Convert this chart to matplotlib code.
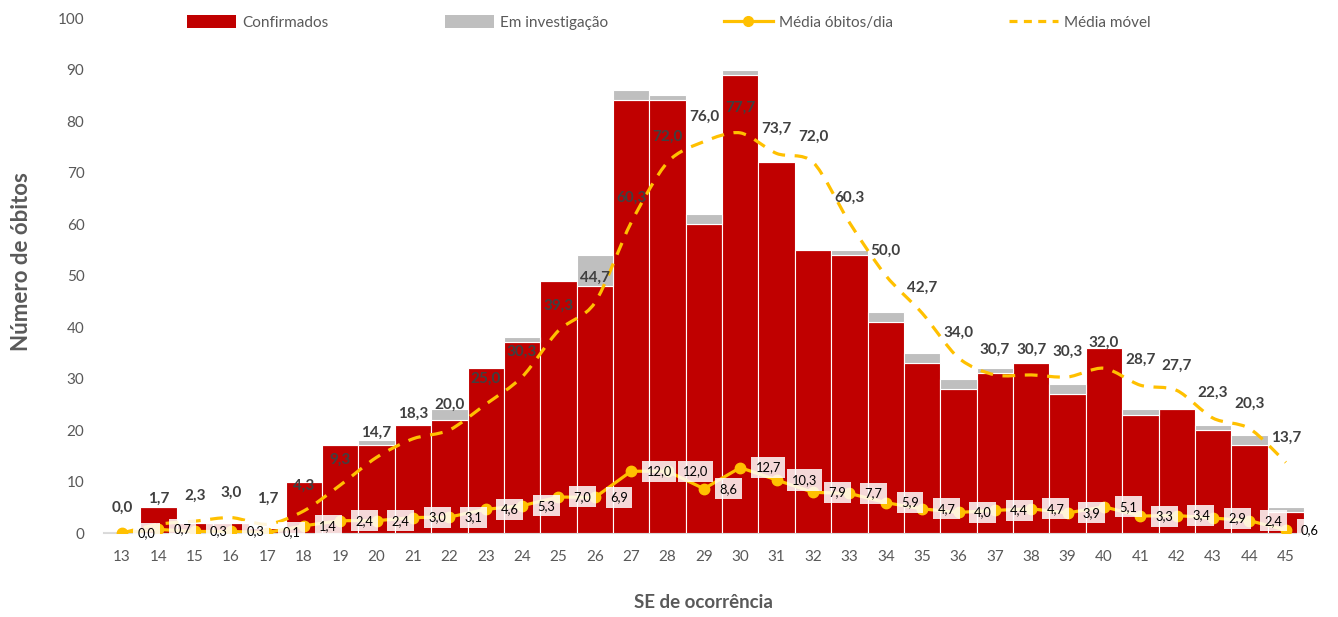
import numpy as np
import matplotlib
matplotlib.use("Agg")
import matplotlib.pyplot as plt
from matplotlib.path import Path
from matplotlib.patches import PathPatch, Patch
from matplotlib.lines import Line2D

plt.rcParams["font.family"] = ["Lato", "DejaVu Sans"]

semanas = list(range(13, 46))
confirmados = [0, 5, 2, 2, 1, 10, 17, 17, 21, 22, 32, 37, 49, 48, 84, 84, 60, 89,
               72, 55, 54, 41, 33, 28, 31, 33, 27, 36, 23, 24, 20, 17, 4]
investigacao = [0, 0, 0, 0, 0, 0, 0, 1, 0, 2, 0, 1, 0, 6, 2, 1, 2, 1,
                0, 0, 1, 2, 2, 2, 1, 0, 2, 0, 1, 0, 1, 2, 1]
media_dia = [0.0, 0.7, 0.3, 0.3, 0.1, 1.4, 2.4, 2.4, 3.0, 3.1, 4.6, 5.3, 7.0, 6.9,
             12.0, 12.0, 8.6, 12.7, 10.3, 7.9, 7.7, 5.9, 4.7, 4.0, 4.4, 4.7, 3.9,
             5.1, 3.3, 3.4, 2.9, 2.4, 0.6]
media_movel = [0.0, 1.7, 2.3, 3.0, 1.7, 4.3, 9.3, 14.7, 18.3, 20.0, 25.0, 30.3,
               39.3, 44.7, 60.3, 72.0, 76.0, 77.7, 73.7, 72.0, 60.3, 50.0, 42.7,
               34.0, 30.7, 30.7, 30.3, 32.0, 28.7, 27.7, 22.3, 20.3, 13.7]

RED = "#C00000"
GRAY = "#BFBFBF"
YEL = "#FFC000"
TXT = "#595959"

def fmt(v):
    return ("%.1f" % v).replace(".", ",")

fig = plt.figure(figsize=(13.38, 6.17), dpi=100)
ax = fig.add_axes([0.0776, 0.1361, 0.8970, 0.8347])

x = np.array(semanas, dtype=float)
conf = np.array(confirmados)
ax.bar(x, conf, width=1.0, color=RED, edgecolor="white", linewidth=0.8, zorder=2)
ax.bar(x, investigacao, width=1.0, bottom=conf, color=GRAY, edgecolor="white",
       linewidth=0.8, zorder=2)

# smoothed moving average (cubic bezier through the points, like Excel)
mm = np.array(media_movel)
n = len(x)
verts = [(x[0], mm[0])]
codes = [Path.MOVETO]
for i in range(n - 1):
    p0 = np.array([x[max(i - 1, 0)], mm[max(i - 1, 0)]])
    p1 = np.array([x[i], mm[i]])
    p2 = np.array([x[i + 1], mm[i + 1]])
    p3 = np.array([x[min(i + 2, n - 1)], mm[min(i + 2, n - 1)]])
    c1 = p1 + (p2 - p0) / 7.0
    c2 = p2 - (p3 - p1) / 7.0
    verts += [tuple(c1), tuple(c2), tuple(p2)]
    codes += [Path.CURVE4] * 3
ax.add_patch(PathPatch(Path(verts, codes), facecolor="none", edgecolor=YEL,
                       linewidth=2.3, linestyle=(0, (4, 3)), zorder=3,
                       capstyle="butt"))

ax.plot(x, media_dia, color=YEL, linewidth=2.3, marker="o", markersize=7.5,
        zorder=4)

for xi, v in zip(x, media_movel):
    ax.annotate(fmt(v), (xi, v), xytext=(0, 18), textcoords="offset points",
                ha="center", va="center", fontsize=11, fontweight="bold",
                color="#404040", zorder=5)

for xi, v in zip(x, media_dia):
    ax.annotate(fmt(v), (xi, v), xytext=(11, 0), textcoords="offset points",
                ha="left", va="center", fontsize=9.3, color="black", zorder=6,
                bbox=dict(boxstyle="square,pad=0.35", facecolor="white",
                          edgecolor="none", alpha=0.85))

ax.set_xlim(12.5, 45.5)
ax.set_ylim(0, 100)
ax.set_xticks(semanas)
ax.set_yticks(range(0, 101, 10))
ax.tick_params(axis="both", length=0, labelsize=11, colors=TXT)
ax.tick_params(axis="y", pad=14)
ax.tick_params(axis="x", pad=12)
for s in ["top", "right", "left"]:
    ax.spines[s].set_visible(False)
ax.spines["bottom"].set_color("#D9D9D9")
ax.spines["bottom"].set_linewidth(1.5)
ax.spines["bottom"].set_zorder(1)

ax.set_ylabel("Número de óbitos", fontsize=16, fontweight="bold", color=TXT)
ax.yaxis.set_label_coords(-0.060, 0.527)
ax.set_xlabel("SE de ocorrência", fontsize=13.5, fontweight="bold", color=TXT,
              labelpad=22)

handles = [Patch(facecolor=RED, edgecolor="none"),
           Patch(facecolor=GRAY, edgecolor="none"),
           Line2D([], [], color=YEL, linewidth=2.3, marker="o", markersize=7),
           Line2D([], [], color=YEL, linewidth=2.3, linestyle=(0, (2.5, 2)))]
labels = ["Confirmados", "Em investigação", "Média óbitos/dia", "Média móvel"]
leg = fig.legend(handles, labels, loc="center", bbox_to_anchor=(0.5, 0.964),
                 ncol=4, frameon=False, fontsize=11, handlelength=3.2,
                 handleheight=0.9, handletextpad=0.4, columnspacing=7.6)
for t in leg.get_texts():
    t.set_color(TXT)

fig.savefig("out.png", dpi=100)
